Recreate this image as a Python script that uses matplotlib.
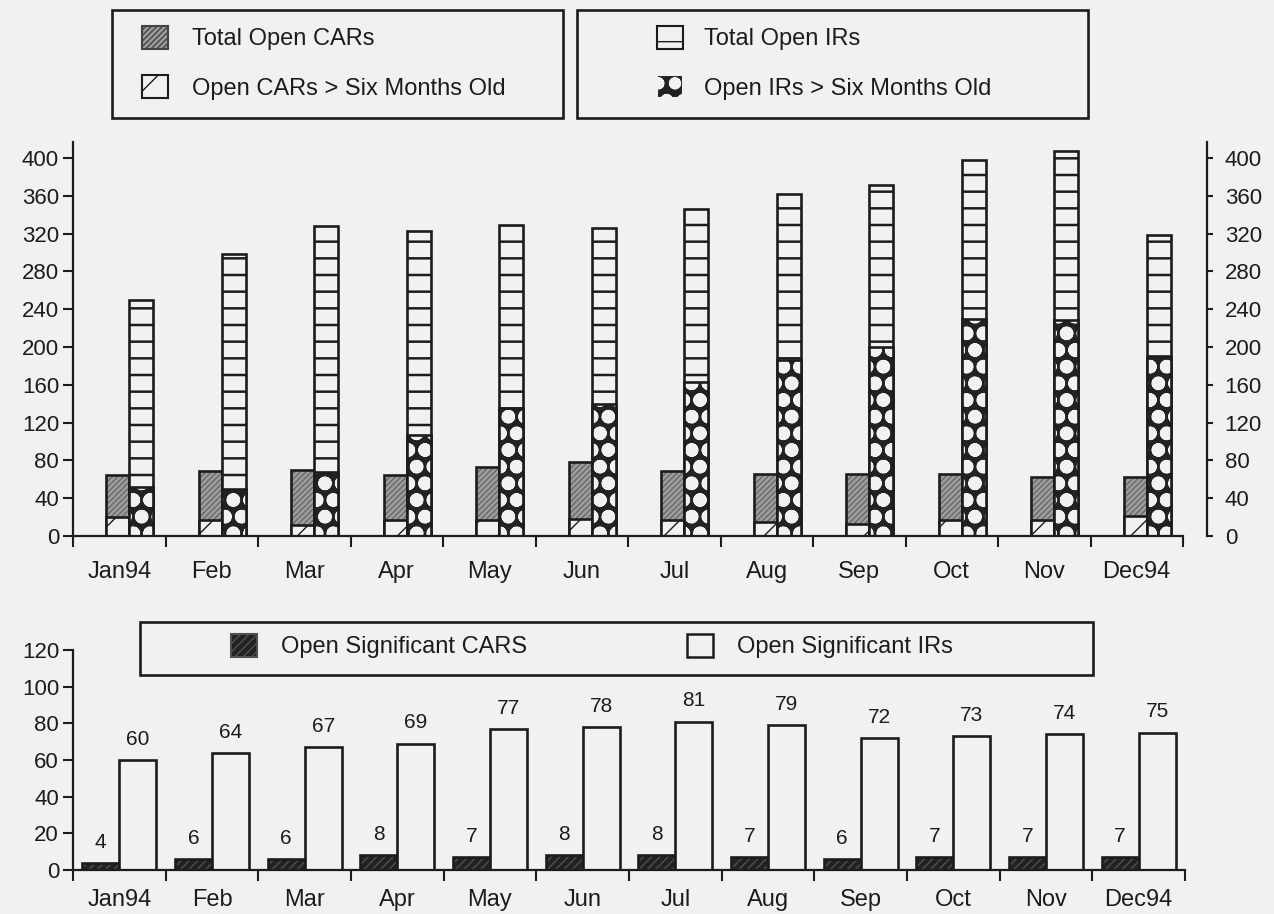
import matplotlib
matplotlib.use('Agg')
import matplotlib.pyplot as plt
from matplotlib.patches import Patch, Rectangle
import numpy as np

months = ['Jan94', 'Feb', 'Mar', 'Apr', 'May', 'Jun', 'Jul', 'Aug', 'Sep', 'Oct', 'Nov', 'Dec94']

# top chart - open CARs and IRs
car_total = [65, 69, 70, 65, 73, 78, 69, 66, 66, 66, 62, 62]
car_old = [20, 17, 12, 17, 17, 18, 17, 15, 13, 17, 17, 21]
ir_total = [250, 298, 328, 323, 329, 326, 346, 362, 372, 398, 408, 319]
ir_old = [52, 50, 68, 107, 135, 140, 163, 186, 200, 230, 229, 190]
top_ticks = [0, 40, 80, 120, 160, 200, 240, 280, 320, 360, 400]

# bottom chart - significant items
sig_cars = [4, 6, 6, 8, 7, 8, 8, 7, 6, 7, 7, 7]
sig_irs = [60, 64, 67, 69, 77, 78, 81, 79, 72, 73, 74, 75]
bottom_ticks = [0, 20, 40, 60, 80, 100, 120]

W, H = 1274, 914
BG = '#f1f1ef'
INK = '#1c1c1c'
GRAY = '#9c9c9c'
DARK = '#222222'

plt.rcParams['font.family'] = ['Liberation Sans', 'DejaVu Sans']
plt.rcParams['text.color'] = INK
plt.rcParams['xtick.color'] = INK
plt.rcParams['ytick.color'] = INK
plt.rcParams['hatch.linewidth'] = 1.0

fig = plt.figure(figsize=(W / 100, H / 100), dpi=100, facecolor=BG)


def px(x0, y0, x1, y1):
    return [x0 / W, 1 - y1 / H, (x1 - x0) / W, (y1 - y0) / H]


def thick_hatch(p, hlw):
    if hasattr(p, 'set_hatch_linewidth'):
        p.set_hatch_linewidth(hlw)
    return p


def hbar(ax, x, h, w, face, hatch, hcolor, hlw=1.0):
    bars = ax.bar(x, h, w, align='edge', color=face, edgecolor=hcolor,
                  hatch=hatch, linewidth=0)
    for b in bars:
        thick_hatch(b, hlw)
    ax.bar(x, h, w, align='edge', fill=False, edgecolor=INK, linewidth=1.9)
    return bars


def style_axis(ax, ymax, ticks, pad):
    ax.patch.set_visible(False)
    ax.set_xlim(-0.5, 11.5)
    ax.set_ylim(0, ymax)
    ax.set_yticks(ticks)
    for s in ['top', 'right']:
        ax.spines[s].set_visible(False)
    for s in ['left', 'bottom']:
        ax.spines[s].set_color(INK)
        ax.spines[s].set_linewidth(1.6)
    ax.set_xticks(np.arange(12), months)
    ax.set_xticks(np.arange(-0.5, 12, 1), minor=True)
    ax.tick_params(axis='x', which='major', length=0, pad=pad, labelsize=17)
    ax.tick_params(axis='x', which='minor', length=8, width=1.5, direction='out')
    ax.tick_params(axis='y', length=7, width=1.5, labelsize=16, pad=3)


x = np.arange(12)

# ---- top chart ----
ax1 = fig.add_axes(px(73, 142, 1183, 536))
hbar(ax1, x - 0.14, car_total, 0.25, GRAY, '//////', '#606060', 0.8)
hbar(ax1, x - 0.14, car_old, 0.25, BG, '/', INK, 1.0)
hbar(ax1, x + 0.11, ir_total, 0.26, BG, '-', INK, 1.8)
hbar(ax1, x + 0.11, ir_old, 0.26, DARK, 'o', BG, 5.0)
style_axis(ax1, 417, top_ticks, 18)

axr = ax1.twinx()
axr.set_ylim(ax1.get_ylim())
axr.set_yticks(top_ticks)
for s in ['top', 'left', 'bottom']:
    axr.spines[s].set_visible(False)
axr.spines['right'].set_position(('outward', 17))
axr.spines['right'].set_color(INK)
axr.spines['right'].set_linewidth(1.6)
axr.tick_params(axis='y', length=4, width=1.5, labelsize=16, pad=9)

# ---- bottom chart ----
ax2 = fig.add_axes(px(73, 650, 1185, 870))
hbar(ax2, x - 0.40, sig_cars, 0.40, DARK, '////', '#505050', 1.0)
hbar(ax2, x, sig_irs, 0.40, BG, None, INK)
style_axis(ax2, 120, bottom_ticks, 14)
for xi, v in zip(x, sig_cars):
    ax2.annotate(str(v), (xi - 0.2, v), xytext=(0, 8), textcoords='offset points',
                 ha='center', va='bottom', fontsize=15)
for xi, v in zip(x, sig_irs):
    ax2.annotate(str(v), (xi + 0.2, v), xytext=(0, 8), textcoords='offset points',
                 ha='center', va='bottom', fontsize=15)

# ---- legend boxes ----
for box in [(112, 10, 563, 118), (577, 10, 1088, 118), (140, 622, 1093, 675)]:
    fig.add_artist(Rectangle((box[0] / W, 1 - box[3] / H), (box[2] - box[0]) / W,
                             (box[3] - box[1]) / H, transform=fig.transFigure,
                             fill=False, edgecolor=INK, linewidth=1.9))

leg_kw = dict(loc='upper left', frameon=False, borderpad=0, borderaxespad=0,
              fontsize=17, handlelength=1.1, handleheight=1.1, labelcolor=INK)

h_car = [Patch(facecolor=GRAY, edgecolor='#444444', hatch='//////', linewidth=1.5),
         Patch(facecolor=BG, edgecolor=INK, hatch='/', linewidth=1.5)]
fig.legend(h_car, ['Total Open CARs', 'Open CARs > Six Months Old'],
           bbox_to_anchor=(142 / W, 1 - 26 / H), handletextpad=1.0,
           labelspacing=1.05, **leg_kw)

h_ir = [Patch(facecolor=BG, edgecolor=INK, hatch='-', linewidth=1.5),
        thick_hatch(Patch(facecolor=DARK, edgecolor=INK, hatch='o', linewidth=1.5), 4.0)]
leg_ir = fig.legend(h_ir, ['Total Open IRs', 'Open IRs > Six Months Old'],
                    bbox_to_anchor=(657 / W, 1 - 26 / H), handletextpad=0.9,
                    labelspacing=1.05, **leg_kw)
# white dots on the dark square, like the bars
ir_handle = leg_ir.legend_handles[1]
ir_handle.set_edgecolor(BG)
thick_hatch(ir_handle, 4.0)

h_sig = [Patch(facecolor=DARK, edgecolor='#505050', hatch='////', linewidth=1.5),
         Patch(facecolor=BG, edgecolor=INK, linewidth=1.8)]
fig.legend(h_sig, ['Open Significant CARS', 'Open Significant IRs'], ncol=2,
           bbox_to_anchor=(231 / W, 1 - 634 / H), handletextpad=1.0,
           columnspacing=6.8, **leg_kw)

fig.savefig('out.png', dpi=100, facecolor=BG)
